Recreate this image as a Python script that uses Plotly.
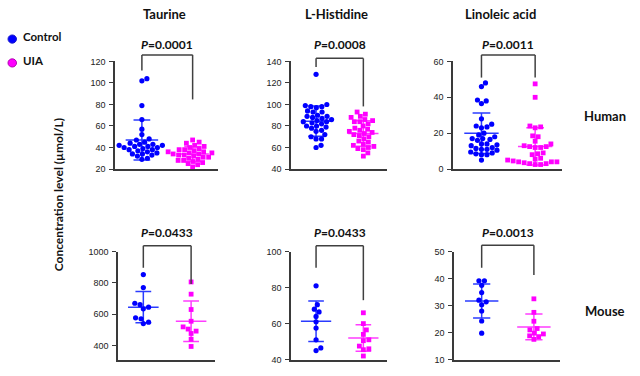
import plotly.graph_objects as go

# ---------------- data ----------------
groups = ["Control", "UIA"]
metabolites = ["Taurine", "L-Histidine", "Linoleic acid"]
species = ["Human", "Mouse"]

human_taurine_control = [104, 102, 79, 66, 57, 52, 48, 47, 45, 44, 43, 43, 42, 42, 41,
                         41, 40, 40, 39, 38, 38, 37, 36, 35, 34, 34, 33, 32, 30, 29]
human_taurine_uia = [47, 45, 44, 42, 41, 40, 39, 38, 38, 37, 36, 36, 35, 35, 34,
                     34, 33, 33, 32, 31, 31, 30, 29, 28, 28, 27, 26, 25, 24, 22]
human_histidine_control = [128, 100, 99, 98, 98, 97, 94, 93, 93, 90, 89, 89, 88, 87, 86, 85,
                           84, 84, 83, 82, 80, 80, 79, 78, 76, 75, 72, 70, 68, 68, 62, 60]
human_histidine_uia = [93, 91, 89, 88, 86, 85, 84, 84, 82, 80, 78, 77, 76, 75, 74,
                       73, 72, 71, 70, 68, 66, 65, 63, 62, 61, 60, 59, 58, 55, 52]
human_linoleic_control = [48, 46, 38.5, 38, 36.5, 28, 25, 24, 23.5, 23, 20, 19, 18, 17, 17, 16.5,
                          16, 14, 14, 13.5, 13, 12, 11.5, 11, 11, 10.5, 9.5, 9, 8.5, 8, 8, 5]
human_linoleic_uia = [47.5, 40, 24, 23.5, 23, 18.5, 18, 15.5, 14, 13, 12.5, 12.5, 12, 12, 9,
                      8.5, 8, 6, 5.5, 5, 4.5, 4.5, 4, 4, 4, 3.5, 3, 3, 2.5, 2.5]

mouse_taurine_control = [853, 770, 670, 661, 645, 634, 577, 571, 549, 540]
mouse_taurine_uia = [806, 728, 630, 555, 519, 505, 492, 477, 440, 394]
mouse_histidine_control = [81, 70.5, 68, 66.5, 64, 61, 57.5, 51, 46.5, 45]
mouse_histidine_uia = [66, 60, 56.5, 54, 51, 50.5, 47.5, 46, 45.5, 42]
mouse_linoleic_control = [39.2, 39.2, 37.5, 34.8, 32, 31.4, 30.3, 28, 24.3, 19.8]
mouse_linoleic_uia = [32.5, 27.5, 24.2, 21.5, 21, 19.8, 19.5, 18.8, 18.5, 17.5]

# mean and SD as drawn (per metabolite: Taurine, L-Histidine, Linoleic acid)
human_mean_control = [47, 84.5, 20]
human_sd_control = [18.5, 14, 11.3]
human_mean_uia = [34, 73, 12.6]
human_sd_uia = [7, 11.8, 10.4]
mouse_mean_control = [645, 61.3, 31.7]
mouse_sd_control = [100, 11.3, 6.3]
mouse_mean_uia = [555, 52, 22.1]
mouse_sd_uia = [130, 7.4, 4.75]

human_p = ["0.0001", "0.0008", "0.0011"]
mouse_p = ["0.0433", "0.0433", "0.0013"]

human_y_ranges = [[20, 120], [40, 140], [0, 60]]
human_y_ticks = [[20, 40, 60, 80, 100, 120], [40, 60, 80, 100, 120, 140], [0, 20, 40, 60]]
mouse_y_ranges = [[310, 1000], [40, 100], [10, 50]]
mouse_y_ticks = [[400, 600, 800, 1000], [40, 60, 80, 100], [10, 20, 30, 40, 50]]

# ---------------- layout constants (pixels) ----------------
W, H = 640, 376
X_RANGE = [-0.53, 1.5]
col_px = {("Human", 0): (115, 218), ("Human", 1): (291, 387), ("Human", 2): (453, 562),
          ("Mouse", 0): (118, 215), ("Mouse", 1): (291, 387), ("Mouse", 2): (454, 560)}
row_px = {"Human": (58, 168.5), "Mouse": (253.3, 364.3)}
# bracket geometry in y-domain units: (top, left leg end, right leg end)
brackets = {("Human", 0): (1.061, 0.917, 0.647), ("Human", 1): (1.029, 0.948, 0.582),
            ("Human", 2): (1.061, 0.85, 0.85), ("Mouse", 0): (1.054, 0.85, 0.699),
            ("Mouse", 1): (1.054, 0.85, 0.55), ("Mouse", 2): (1.059, 0.85, 0.784)}
TXT_SHIFT = 2.5  # px upward correction for text baseline
p_text_px = {"Human": 42.7 - TXT_SHIFT, "Mouse": 236.7 - TXT_SHIFT}

CTRL_COLOR = "#0000ff"
UIA_COLOR = "#ff00ff"
CTRL_LINE = "#2a3bff"
UIA_LINE = "#ff3cff"
FONT = "Lato"


def swarm(vals, y_px_per_unit, d=5.4):
    placed = []
    xs = [0.0] * len(vals)
    order = sorted(range(len(vals)), key=lambda i: vals[i])
    cands = [0.0]
    for k in range(1, 240):
        cands += [k * 0.25, -k * 0.25]
    for i in order:
        y = vals[i] * y_px_per_unit
        for c in cands:
            if all((c - px) ** 2 + (y - py) ** 2 >= d * d for px, py in placed):
                xs[i] = c
                placed.append((c, y))
                break
    return xs


data = {
    "Human": [(human_taurine_control, human_taurine_uia),
              (human_histidine_control, human_histidine_uia),
              (human_linoleic_control, human_linoleic_uia)],
    "Mouse": [(mouse_taurine_control, mouse_taurine_uia),
              (mouse_histidine_control, mouse_histidine_uia),
              (mouse_linoleic_control, mouse_linoleic_uia)],
}
stats = {
    "Human": (human_mean_control, human_sd_control, human_mean_uia, human_sd_uia),
    "Mouse": (mouse_mean_control, mouse_sd_control, mouse_mean_uia, mouse_sd_uia),
}
ranges = {"Human": human_y_ranges, "Mouse": mouse_y_ranges}
ticks = {"Human": human_y_ticks, "Mouse": mouse_y_ticks}
pvals = {"Human": human_p, "Mouse": mouse_p}

fig = go.Figure()
shapes = []
annotations = []

idx = 0
for sp in species:
    r0, r1 = row_px[sp]
    for j in range(3):
        idx += 1
        xa = "x" if idx == 1 else f"x{idx}"
        ya = "y" if idx == 1 else f"y{idx}"
        c0, c1 = col_px[(sp, j)]
        lo, hi = ranges[sp][j]
        ypu = (r1 - r0) / (hi - lo)
        xpu = (c1 - c0) / (X_RANGE[1] - X_RANGE[0])
        mc, sc, mu, su = stats[sp]
        for g, (vals, color, sym, lc, mean, sd) in enumerate([
            (data[sp][j][0], CTRL_COLOR, "circle", CTRL_LINE, mc[j], sc[j]),
            (data[sp][j][1], UIA_COLOR, "square", UIA_LINE, mu[j], su[j])]):
            offs = swarm(vals, ypu)
            xs = [g + o / xpu for o in offs]
            # mean / SD lines
            mw, cw = 0.32, 0.165
            lx = [g - mw, g + mw, None, g, g, None, g - cw, g + cw, None, g - cw, g + cw]
            ly = [mean, mean, None, mean - sd, mean + sd, None,
                  mean + sd, mean + sd, None, mean - sd, mean - sd]
            fig.add_trace(go.Scatter(x=lx, y=ly, mode="lines", xaxis=xa, yaxis=ya,
                                     line=dict(color=lc, width=1.5), showlegend=False,
                                     hoverinfo="skip"))
            fig.add_trace(go.Scatter(x=xs, y=vals, mode="markers", xaxis=xa, yaxis=ya,
                                     marker=dict(color=color, symbol=sym,
                                                 size=5.2 if sym == "circle" else 4.8,
                                                 line=dict(width=0)),
                                     showlegend=False, name=groups[g], cliponaxis=False))
        xd = [c0 / W, c1 / W]
        yd = [1 - r1 / H, 1 - r0 / H]
        fig.layout[("xaxis" if idx == 1 else f"xaxis{idx}")] = dict(
            domain=xd, range=X_RANGE, anchor=ya, showline=True, linecolor="#3a3a3a",
            linewidth=1.5, showticklabels=False, ticks="", showgrid=False, zeroline=False,
            fixedrange=True)
        fig.layout[("yaxis" if idx == 1 else f"yaxis{idx}")] = dict(
            domain=yd, range=[lo, hi], anchor=xa, showline=True, linecolor="#3a3a3a",
            linewidth=1.5, tickvals=ticks[sp][j], ticks="outside", ticklen=4, tickwidth=1.2,
            tickcolor="#3a3a3a", showgrid=False, zeroline=False,
            tickfont=dict(family="Liberation Sans", size=9, color="#222222"), ticklabelstandoff=2)
        # significance bracket
        top, ll, rl = brackets[(sp, j)]
        ydom = f"{ya} domain"
        for (x0, y0, x1, y1) in [(0, ll, 0, top), (0, top, 1, top), (1, top, 1, rl)]:
            shapes.append(dict(type="line", xref=xa, yref=ydom, x0=x0, x1=x1, y0=y0, y1=y1,
                               line=dict(color="#404040", width=1.5)))
        annotations.append(dict(text=f"<b><i>P</i>=" + pvals[sp][j] + "</b>", xref=xa,
                                yref="paper", x=0.5, y=1 - p_text_px[sp] / H, showarrow=False,
                                font=dict(family=FONT, size=12, color="#111111"),
                                xanchor="center", yanchor="middle"))

# column titles
for name, cx in zip(metabolites, [164.5, 336, 500]):
    annotations.append(dict(text=f"<b>{name}</b>", xref="paper", yref="paper", x=cx / W,
                            y=1 - (12 - TXT_SHIFT) / H, showarrow=False, xanchor="center",
                            yanchor="middle", font=dict(family=FONT, size=13, color="#111111")))
# row labels
for name, cy in zip(species, [116.7, 316.7]):
    annotations.append(dict(text=f"<b>{name}</b>", xref="paper", yref="paper", x=605 / W,
                            y=1 - (cy - TXT_SHIFT) / H, showarrow=False, xanchor="center",
                            yanchor="middle", font=dict(family=FONT, size=13, color="#111111")))
# y title
annotations.append(dict(text="<b>Concentration level (\u00b5mol/L)</b>", xref="paper",
                        yref="paper", x=58 / W, y=1 - 195.5 / H, textangle=-90, showarrow=False,
                        xanchor="center", yanchor="middle",
                        font=dict(family=FONT, size=12, color="#111111")))
# legend
for name, cy, fill, edge in [(groups[0], 35, CTRL_COLOR, "#1a1acc"),
                             (groups[1], 59.5, UIA_COLOR, "#b000b0")]:
    shapes.append(dict(type="circle", xref="paper", yref="paper", x0=8 / W, x1=16.5 / W,
                       y0=1 - (cy + 4.2) / H, y1=1 - (cy - 4.2) / H, fillcolor=fill,
                       line=dict(color=edge, width=1)))
    annotations.append(dict(text=f"<b>{name}</b>", xref="paper", yref="paper", x=20.5 / W,
                            y=1 - (cy - TXT_SHIFT) / H, showarrow=False, xanchor="left",
                            yanchor="middle", font=dict(family=FONT, size=11.5, color="#111111")))

fig.update_layout(width=W, height=H, margin=dict(l=0, r=0, t=0, b=0),
                  plot_bgcolor="white", paper_bgcolor="white", showlegend=False,
                  shapes=shapes, annotations=annotations)

fig.write_html("out.html", config={"displayModeBar": False},
               post_script="document.body.style.margin='0';document.body.style.overflow='hidden';")
